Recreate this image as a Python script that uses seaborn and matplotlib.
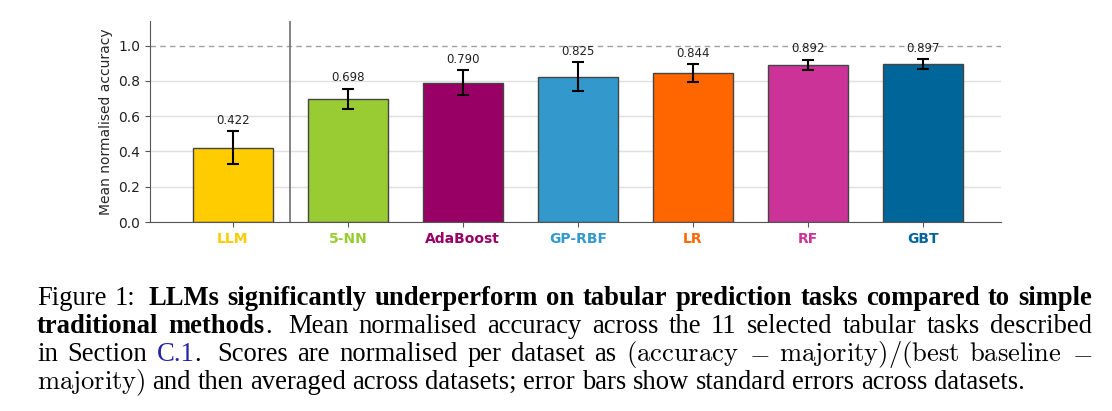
import numpy as np
import pandas as pd
import matplotlib
matplotlib.use("Agg")
import matplotlib.pyplot as plt
import seaborn as sns

methods = ["LLM", "5-NN", "AdaBoost", "GP-RBF", "LR", "RF", "GBT"]
mean_acc = [0.422, 0.698, 0.790, 0.825, 0.844, 0.892, 0.897]
std_err = [0.094, 0.058, 0.070, 0.080, 0.052, 0.028, 0.027]
colors = ["#FFCC00", "#99CC33", "#990066", "#3399CC", "#FF6600", "#CC3399", "#006699"]
yticks = [0.0, 0.2, 0.4, 0.6, 0.8, 1.0]

df = pd.DataFrame({"method": methods, "acc": mean_acc, "se": std_err})

sns.set_style("ticks")
plt.rcParams["font.family"] = ["DejaVu Sans"]
plt.rcParams["mathtext.fontset"] = "cm"

W, H = 1112, 411
fig = plt.figure(figsize=(W / 100, H / 100), dpi=100)
ax = fig.add_axes([150 / W, 1 - 222 / H, 851 / W, 201 / H])

sns.barplot(data=df, x="method", y="acc", hue="method", palette=colors, legend=False,
            saturation=1, width=0.7, edgecolor="#444444", linewidth=1, ax=ax, zorder=2)
ax.errorbar(range(len(methods)), mean_acc, yerr=std_err, fmt="none", ecolor="black",
            elinewidth=1.5, capsize=4.5, capthick=1.5, zorder=3)

for i, (m, s) in enumerate(zip(mean_acc, std_err)):
    ax.text(i, m + s + 0.025, f"{m:.3f}", ha="center", va="bottom", fontsize=8.5, color="#222222")

ax.axhline(1.0, color="#a0a0a0", ls=(0, (4, 3)), lw=1, zorder=1)
ax.axvline(0.5, color="#707070", lw=1.2, zorder=1)

ax.set_yticks(yticks)
ax.set_yticklabels([f"{v:.1f}" for v in yticks], fontsize=10)
ax.yaxis.grid(True, color="#e0e0e0", lw=1)
ax.set_axisbelow(True)
ax.get_ygridlines()[-1].set_visible(False)
ax.set_ylim(0, 1.14)
ax.set_xlim(-0.72, 6.68)

ax.set_xticks(range(len(methods)))
ax.set_xticklabels(methods, fontweight="bold", fontsize=10)
ax.set_xlabel("")
ax.set_ylabel("Mean normalised accuracy", fontsize=10)
sns.despine(ax=ax)
for sp in ["left", "bottom"]:
    ax.spines[sp].set_color("#555555")
ax.tick_params(colors="#555555", labelcolor="#222222")
for lbl, c in zip(ax.get_xticklabels(), colors):
    lbl.set_color(c)

# caption below the plot, justified word by word like the LaTeX original
renderer = fig.canvas.get_renderer()
cap_left, cap_right = 37, 1092
baselines = [305, 333, 361, 389]

styles = {
    "n": dict(family="Liberation Serif", color="black"),
    "b": dict(family="Liberation Serif", weight="bold", color="black"),
    "c": dict(family="Liberation Serif", color="#2424a8"),
    "m": dict(color="black"),
}


def words(s, st):
    return [[(w, st)] for w in s.split()]


line1 = words("Figure 1:", "n") + words(
    "LLMs significantly underperform on tabular prediction tasks compared to simple", "b")
line2 = words("traditional", "b") + [[("methods", "b"), (".", "n")]] + words(
    "Mean normalised accuracy across the 11 selected tabular tasks described", "n")
line3 = words("in Section", "n") + [[("C.1", "c"), (".", "n")]] + words(
    "Scores are normalised per dataset as", "n") + [
    [("(accuracy", "m")], [("−", "m")], [("majority)/(best", "m")], [("baseline", "m")], [("−", "m")]]
line4 = [[("majority)", "m")]] + words(
    "and then averaged across datasets; error bars show standard errors across datasets.", "n")


def seg_text(txt, st):
    if st == "m":
        return r"$-$" if txt == "−" else r"$\mathrm{%s}$" % txt
    return txt


def make_word(word, fs):
    return [fig.text(0, 0, seg_text(t, st), fontsize=fs, va="baseline", ha="left", **styles[st])
            for t, st in word]


def width_px(a):
    return a.get_window_extent(renderer).width


def space_px(fs):
    a = fig.text(0, 0, "a a", fontsize=fs, family="Liberation Serif")
    b = fig.text(0, 0, "aa", fontsize=fs, family="Liberation Serif")
    sp = width_px(a) - width_px(b)
    a.remove()
    b.remove()
    return sp


def gap_weights(ws):
    return [1.6 if w[-1][0].endswith((".", ":")) else 1.0 for w in ws[:-1]]


def natural_width(ws, fs):
    groups = [make_word(w, fs) for w in ws]
    total = sum(width_px(a) for g in groups for a in g)
    for g in groups:
        for a in g:
            a.remove()
    return total + space_px(fs) * sum(gap_weights(ws))


def lay_line(ws, base_y, fs, justify):
    groups = [make_word(w, fs) for w in ws]
    widths = [[width_px(a) for a in g] for g in groups]
    total = sum(sum(w) for w in widths)
    weights = gap_weights(ws)
    if justify:
        unit = (cap_right - cap_left - total) / sum(weights)
    else:
        unit = space_px(fs)
    x = cap_left
    for i, (g, wl) in enumerate(zip(groups, widths)):
        for a, w in zip(g, wl):
            a.set_position((x / W, 1 - base_y / H))
            x += w
        if i < len(weights):
            x += unit * weights[i]


fs0 = 16
fs = fs0 * 986 / natural_width(line4, fs0)
for ln, by, just in zip([line1, line2, line3, line4], baselines, [True, True, True, False]):
    lay_line(ln, by, fs, just)

fig.savefig("out.png", dpi=100)
